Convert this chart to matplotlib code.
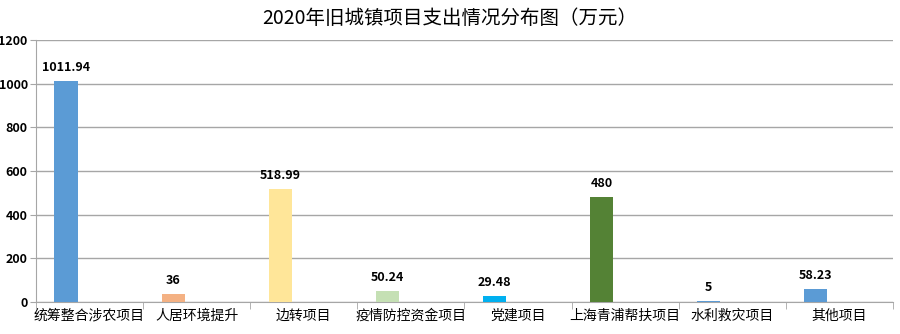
import matplotlib
matplotlib.use("Agg")
import matplotlib.pyplot as plt
import numpy as np

plt.rcParams['font.family'] = ['Noto Sans CJK SC', 'DejaVu Sans']

categories = ["统筹整合涉农项目", "人居环境提升", "边转项目", "疫情防控资金项目",
              "党建项目", "上海青浦帮扶项目", "水利救灾项目", "其他项目"]
values = [1011.94, 36, 518.99, 50.24, 29.48, 480, 5, 58.23]
value_labels = ["1011.94", "36", "518.99", "50.24", "29.48", "480", "5", "58.23"]
colors = ["#5B9BD5", "#F4B183", "#FFE699", "#C5E0B4",
          "#00B0F0", "#548235", "#5B9BD5", "#5B9BD5"]
yticks = [0, 200, 400, 600, 800, 1000, 1200]

fig = plt.figure(figsize=(9, 3.34), dpi=100)
ax = fig.add_axes([0.04, 0.096, 0.952, 0.784])

x = np.arange(len(categories))
bar_x = x - 0.22
ax.bar(bar_x, values, width=0.215, color=colors, zorder=3)

for bx, v, lab in zip(bar_x, values, value_labels):
    ax.annotate(lab, (bx, v), xytext=(0, 5), textcoords="offset points",
                ha="center", va="bottom", fontsize=9, color="#000000",
                fontweight="bold", zorder=4)

ax.set_xlim(-0.5, len(categories) - 0.5)
ax.set_ylim(0, 1200)
ax.set_yticks(yticks)
ax.set_yticklabels([str(t) for t in yticks], fontsize=9, fontweight="bold")
ax.yaxis.grid(True, color="#A6A6A6", linewidth=1, zorder=0)
ax.tick_params(axis="y", length=4, color="#A6A6A6", pad=2)

# category labels centred, tick marks at category boundaries
ax.set_xticks(x)
ax.set_xticklabels(categories, fontsize=10, fontweight="medium")
ax.set_xticks(np.arange(len(categories) + 1) - 0.5, minor=True)
ax.tick_params(axis="x", which="major", length=0, pad=5)
ax.tick_params(axis="x", which="minor", length=5, color="#A6A6A6")

for side in ("top", "right"):
    ax.spines[side].set_visible(False)
for side in ("left", "bottom"):
    ax.spines[side].set_color("#A6A6A6")

fig.text(0.5, 0.945, "2020年旧城镇项目支出情况分布图（万元）", ha="center",
         va="center", fontsize=14, fontweight="medium")

fig.savefig("out.png", dpi=100)
